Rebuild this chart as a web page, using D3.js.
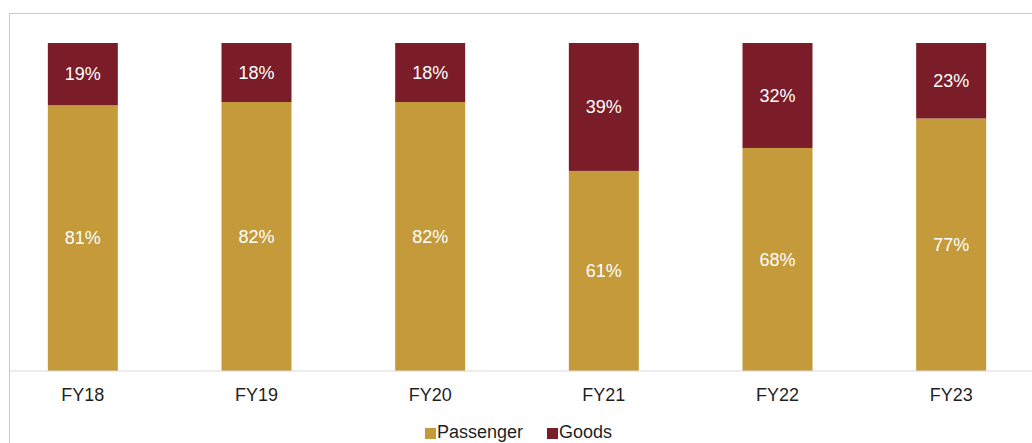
<!DOCTYPE html>
<html>
<head>
<meta charset="utf-8">
<script src="https://cdn.jsdelivr.net/npm/d3@7"></script>
<style>
  body { margin: 0; background: #fff; }
  svg { display: block; font-family: "Liberation Sans", Arial, sans-serif; }
</style>
</head>
<body>
<div id="chart-area"></div>
<script>
var years = ["FY18", "FY19", "FY20", "FY21", "FY22", "FY23"];
var passenger = [81, 82, 82, 61, 68, 77];
var goods = [19, 18, 18, 39, 32, 23];
var seriesNames = ["Passenger", "Goods"];
var seriesColors = ["#c49a3a", "#7a1d28"];

var W = 1032, H = 443;
var svg = d3.select("#chart-area").append("svg").attr("width", W).attr("height", H);

// frame
svg.append("rect")
	.attr("x", 9.5).attr("y", 13.5)
	.attr("width", W).attr("height", H)
	.attr("fill", "none").attr("stroke", "#c8c8c8");

var rows = years.map((y, i) => ({year: y, Passenger: passenger[i], Goods: goods[i]}));
var stacked = d3.stack().keys(seriesNames)(rows);

var x = d3.scaleBand().domain(years).range([-4, 1038]).paddingInner(0.597).paddingOuter(0.2985);
var y = d3.scaleLinear().domain([0, 100]).range([371, 43]);
var color = d3.scaleOrdinal().domain(seriesNames).range(seriesColors);

var layers = svg.selectAll("g.layer").data(stacked).enter().append("g")
	.attr("class", "layer")
	.attr("fill", d => color(d.key));

layers.selectAll("rect").data(d => d).enter().append("rect")
	.attr("x", d => x(d.data.year))
	.attr("y", d => y(d[1]))
	.attr("width", x.bandwidth())
	.attr("height", d => y(d[0]) - y(d[1]));

layers.selectAll("text").data(d => d).enter().append("text")
	.attr("x", d => x(d.data.year) + x.bandwidth() / 2)
	.attr("y", d => (y(d[0]) + y(d[1])) / 2)
	.attr("dy", "0.35em")
	.attr("text-anchor", "middle")
	.attr("fill", "#fff")
	.attr("font-size", "18px")
	.text(d => (d[1] - d[0]) + "%");

// axis
var axis = svg.append("g").attr("transform", "translate(0,371)")
	.call(d3.axisBottom(x).tickSize(0).tickPadding(17));
axis.select(".domain").remove();
axis.append("line").attr("x1", 10).attr("x2", W).attr("stroke", "#d9d9d9");
axis.selectAll("text").attr("font-size", "18px").attr("fill", "#1f1f1f")
	.attr("font-family", "Liberation Sans, Arial, sans-serif");

// legend
var legend = svg.append("g").attr("transform", "translate(425,432)");
var lx = [0, 122];
seriesNames.forEach((s, i) => {
	legend.append("rect").attr("x", lx[i]).attr("y", -4).attr("width", 11).attr("height", 11).attr("fill", color(s));
	legend.append("text").attr("x", lx[i] + 12).attr("y", 0).attr("dy", "0.35em")
		.attr("font-size", "18px").attr("fill", "#1f1f1f").text(s);
});
</script>
</body>
</html>
